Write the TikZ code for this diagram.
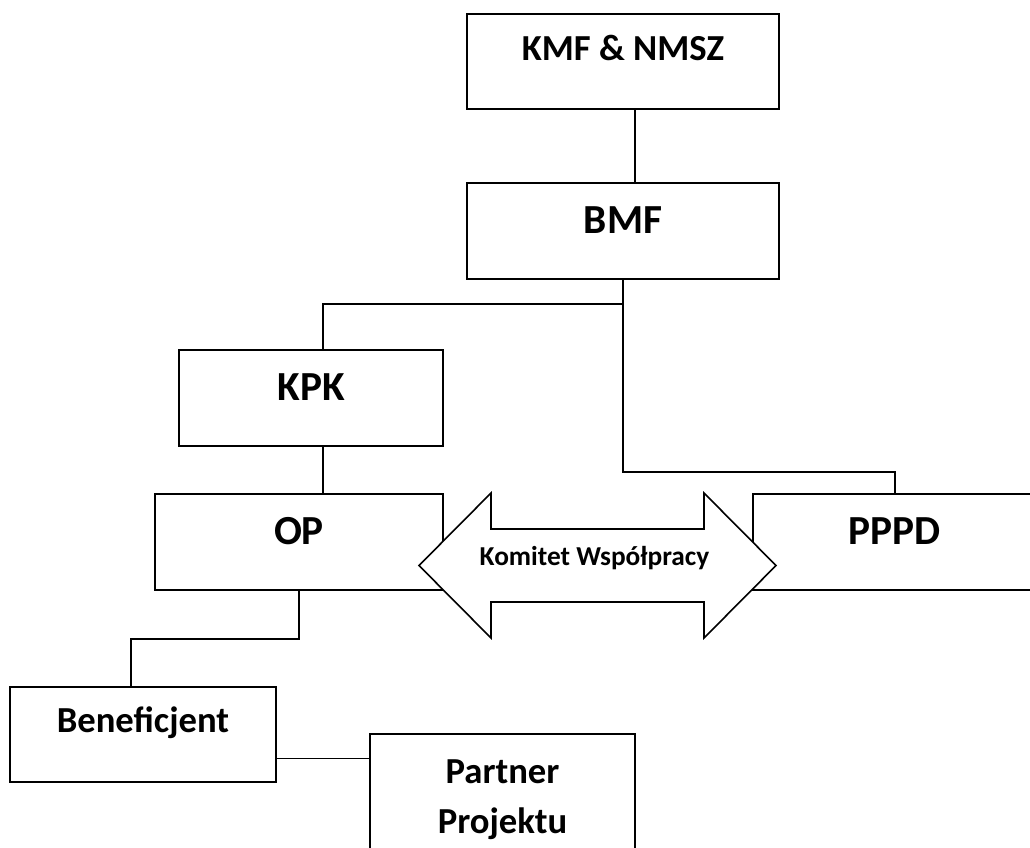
\documentclass[tikz,border=0pt]{standalone}
\usepackage{fontspec}
\setmainfont{Carlito}
\usetikzlibrary{calc}

\begin{document}
\begin{tikzpicture}[x=0.75pt,y=-0.75pt,
        box/.style={draw, line width=1.4pt, anchor=north, inner sep=0pt,
            text height=35.25pt, text depth=36pt, align=center,
            font=\fontsize{27.5}{38}\selectfont\bfseries},
        bigbox/.style={box, text height=38.25pt, text depth=33.75pt,
            font=\fontsize{31}{38}\selectfont\bfseries},
        link/.style={line width=1.2pt}]
        \clip (0,0) rectangle (1030,847);

        % Boxes
        \node[box, minimum width=234pt] (kmf) at (623,13) {KMF \& NMSZ};
        \node[bigbox, minimum width=234pt] (bmf) at (623,182) {BMF};
        \node[bigbox, minimum width=198pt] (kpk) at (311,349) {KPK};
        \node[bigbox, minimum width=216pt] (op) at (299,493) {OP};
        \node[bigbox, minimum width=213pt] (pppd) at (895,493) {PPPD};
        \node[box, minimum width=199.5pt, text height=34.5pt, text depth=36.75pt]
            (benef) at (143,686) {Beneficjent};
        \node[box, minimum width=198.75pt, text height=75pt, text depth=34.5pt]
            (partner) at (502.5,733) {Partner\\Projektu};

        % Lines
        \draw[link] ($(kmf.south)+(12,0)$) -- ($(bmf.north)+(12,0)$);
        \draw[link] (bmf.south) -- ++(0,192) -| (pppd.north);
        \draw[link] ($(bmf.south)+(0,24)$) -| ($(kpk.north)+(12,0)$);
        \draw[link] ($(kpk.south)+(12,0)$) -- ($(op.north)+(24,0)$);
        \draw[link] (op.south) -- ++(0,48) -| ($(benef.north)+(-12,0)$);
        \draw[link] ($(benef.east)+(0,24)$) coordinate (b) -- (b -| partner.west);

        % Double arrow
        \coordinate (kw) at (597.5,565.5);
        \draw[line width=1.2pt, fill=white, shift={(kw)}]
            (-178.5,0) -- (-106.5,-72.5) -- (-106.5,-36.5) -- (106.5,-36.5)
            -- (106.5,-72.5) -- (178.5,0) -- (106.5,72.5) -- (106.5,36.5)
            -- (-106.5,36.5) -- (-106.5,72.5) -- cycle;
        \node[anchor=base, font=\fontsize{20.5}{24}\selectfont\bfseries]
            (komitet) at ($(kw)+(-3,0)$) {Komitet Współpracy};
\end{tikzpicture}
\end{document}
